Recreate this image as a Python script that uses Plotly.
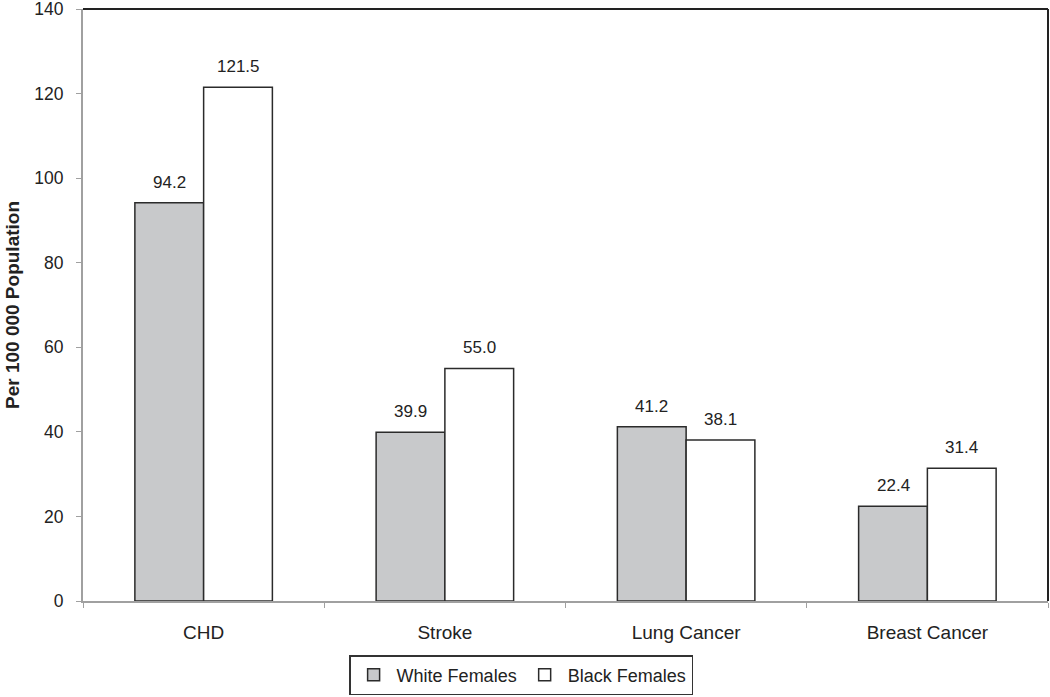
import plotly.graph_objects as go

categories = ["CHD", "Stroke", "Lung Cancer", "Breast Cancer"]
white_females = [94.2, 39.9, 41.2, 22.4]
black_females = [121.5, 55.0, 38.1, 31.4]
series_names = ["White Females", "Black Females"]
y_ticks = [0, 20, 40, 60, 80, 100, 120, 140]

font_family = "Liberation Sans, Arial, sans-serif"
W, H = 1050, 697
ML, MR, MT, MB = 83, 2, 9, 96
BARGAP = 0.43

fig = go.Figure()
fig.add_trace(go.Bar(
    x=categories, y=white_females, name=series_names[0],
    marker=dict(color="#c8c9cb", line=dict(color="#2b2b2b", width=1.5)),
))
fig.add_trace(go.Bar(
    x=categories, y=black_females, name=series_names[1],
    marker=dict(color="#ffffff", line=dict(color="#2b2b2b", width=1.5)),
))

plot_w = W - ML - MR
plot_h = H - MT - MB
bar_px = plot_w / len(categories) * (1 - BARGAP) / 2

annotations = [dict(
    text="<b>Per 100 000 Population</b>", xref="paper", yref="paper",
    x=(12 - ML) / plot_w, y=0.5, xanchor="center", yanchor="middle",
    textangle=-90, showarrow=False, font=dict(size=19, color="#222"),
)]
for series, sign in ((white_females, -1), (black_females, 1)):
    for cat, v in zip(categories, series):
        annotations.append(dict(
            x=cat, y=v, xref="x", yref="y", text=f"{v:.1f}", showarrow=False,
            xanchor="center", yanchor="bottom", xshift=sign * bar_px / 2, yshift=9,
            font=dict(size=17, color="#222", family=font_family),
        ))

fig.update_layout(
    width=W, height=H,
    margin=dict(l=ML, r=MR, t=MT, b=MB, autoexpand=False),
    paper_bgcolor="white", plot_bgcolor="white",
    barmode="group", bargap=BARGAP, bargroupgap=0,
    font=dict(family=font_family, color="#222"),
    showlegend=True,
    legend=dict(
        orientation="h", x=0.454, xanchor="center", y=-(655 - (MT + plot_h)) / plot_h,
        yanchor="top",
        bordercolor="#333", borderwidth=1.5, bgcolor="white",
        font=dict(size=18, color="#222", family=font_family),
        itemwidth=36, tracegroupgap=0,
    ),
    xaxis=dict(
        showline=True, linecolor="#a0a0a0", linewidth=2,
        ticks="outside", ticklen=5, tickcolor="#a0a0a0", tickson="boundaries",
        tickfont=dict(size=19, color="#222"), ticklabelstandoff=13,
        showgrid=False, zeroline=False,
    ),
    yaxis=dict(
        range=[0, 140.0001], tickvals=y_ticks,
        showline=True, linecolor="#a0a0a0", linewidth=2,
        ticks="outside", ticklen=5, tickcolor="#a0a0a0",
        tickfont=dict(size=17.5, color="#222"), ticklabelstandoff=9,
        ticklabeloverflow="allow",
        showgrid=False, zeroline=False,
    ),
    annotations=annotations,
)

# frame top and right border
fig.add_shape(type="line", xref="paper", yref="paper", x0=0, x1=1, y0=1, y1=1,
              line=dict(color="#222", width=2))
fig.add_shape(type="line", xref="paper", yref="paper", x0=1, x1=1, y0=0, y1=1,
              line=dict(color="#222", width=2))

fig.write_html("out.html", config={"displayModeBar": False},
               post_script="document.body.style.margin='0';")
